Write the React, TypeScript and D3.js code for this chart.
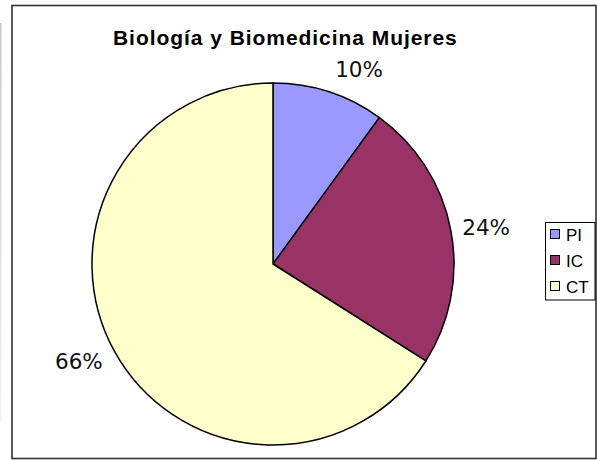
import * as d3 from 'd3';

const categories = ['PI', 'IC', 'CT'];
const values = [10, 24, 66];
const labels = ['10%', '24%', '66%'];
const colors = ['#9999FF', '#993366', '#FFFFCC'];
const title = 'Biología y Biomedicina Mujeres';

const W = 597;
const H = 460;

export default function App() {
  const cx = 273;
  const cy = 264;
  const r = 181;

  const pie = d3.pie<number>().sort(null).value(d => d).startAngle(0).endAngle(Math.PI * 2);
  const arcs = pie(values);
  const arc = d3.arc<d3.PieArcDatum<number>>().innerRadius(0).outerRadius(r);
  const labelArc = d3.arc<d3.PieArcDatum<number>>().innerRadius(217).outerRadius(217);
  // excel pushes the small label away from the title
  const nudge = [[19, 12], [0, 4], [-4, -7]];

  return (
    <div style={{ position: 'fixed', left: 0, top: 0 }}>
      <svg width={W} height={H} style={{ display: 'block', background: '#fff' }}>
        <defs>
          <linearGradient id="edge" x1="0" y1="0" x2="0" y2="1">
            <stop offset="0" stopColor="#c8c8c8" />
            <stop offset="1" stopColor="#f4f4f4" />
          </linearGradient>
        </defs>
        <rect x={0} y={23} width={1.5} height={400} fill="url(#edge)" />
        <rect x={12} y={5.5} width={584} height={453} fill="#fff" stroke="#333" strokeWidth={1.6} />
        <text x={113} y={45} textAnchor="start" fontFamily="Liberation Sans, Arial, sans-serif"
          fontWeight="bold" fontSize={21} letterSpacing={0.95} fill="#000">{title}</text>
        <g transform={`translate(${cx},${cy})`}>
          {arcs.map((a, i) => (
            <path key={categories[i]} d={arc(a) || ''} fill={colors[i]} stroke="#000" strokeWidth={1.5} />
          ))}
          {arcs.map((a, i) => {
            const [lx, ly] = labelArc.centroid(a);
            return (
              <text key={'l' + i} x={lx + nudge[i][0]} y={ly + nudge[i][1]} textAnchor="middle"
                dominantBaseline="central" fontFamily="DejaVu Sans, Verdana, sans-serif"
                fontSize={21.5} fill="#111">{labels[i]}</text>
            );
          })}
        </g>
        <g transform="translate(545.5,222.5)">
          <rect x={0} y={0} width={49.5} height={77.5} fill="#fff" stroke="#000" strokeWidth={1} />
          {categories.map((c, i) => (
            <g key={c} transform={`translate(0,${12 + i * 26})`}>
              <rect x={5} y={-5} width={9} height={9} fill={colors[i]} stroke="#000" strokeWidth={1} />
              <text x={20.5} y={0.5} dominantBaseline="central" fontFamily="Liberation Sans, Arial, sans-serif"
                fontSize={17} fill="#000">{c}</text>
            </g>
          ))}
        </g>
      </svg>
    </div>
  );
}
